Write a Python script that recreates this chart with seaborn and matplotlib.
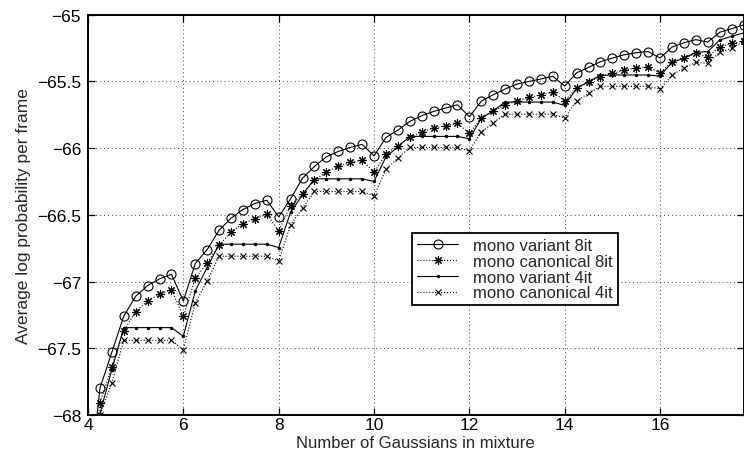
import matplotlib
matplotlib.use("Agg")
import matplotlib.pyplot as plt
import seaborn as sns

# Number of Gaussians per mixture (x positions of every curve)
n_gauss = [4.0, 4.25, 4.5, 4.75, 5.0, 5.25, 5.5, 5.75,
           6.0, 6.25, 6.5, 6.75, 7.0, 7.25, 7.5, 7.75,
           8.0, 8.25, 8.5, 8.75, 9.0, 9.25, 9.5, 9.75,
           10.0, 10.25, 10.5, 10.75, 11.0, 11.25, 11.5, 11.75,
           12.0, 12.25, 12.5, 12.75, 13.0, 13.25, 13.5, 13.75,
           14.0, 14.25, 14.5, 14.75, 15.0, 15.25, 15.5, 15.75,
           16.0, 16.25, 16.5, 16.75, 17.0, 17.25, 17.5, 17.75]

variant_8it = [-68.64, -67.80, -67.53, -67.26, -67.11, -67.03, -66.98, -66.945,
               -67.145, -66.865, -66.76, -66.615, -66.525, -66.46, -66.415, -66.39,
               -66.515, -66.38, -66.225, -66.137, -66.065, -66.025, -65.995, -65.972,
               -66.058, -65.92, -65.865, -65.80, -65.757, -65.725, -65.70, -65.675,
               -65.765, -65.648, -65.60, -65.557, -65.52, -65.50, -65.482, -65.462,
               -65.535, -65.435, -65.395, -65.352, -65.325, -65.30, -65.285, -65.276,
               -65.325, -65.243, -65.21, -65.187, -65.205, -65.132, -65.105, -65.077]

canonical_8it = [-68.75, -67.91, -67.64, -67.37, -67.225, -67.145, -67.095, -67.06,
                 -67.26, -66.975, -66.86, -66.725, -66.63, -66.565, -66.53, -66.495,
                 -66.62, -66.43, -66.34, -66.24, -66.18, -66.137, -66.107, -66.09,
                 -66.18, -66.045, -65.982, -65.92, -65.877, -65.85, -65.832, -65.815,
                 -65.89, -65.775, -65.72, -65.677, -65.645, -65.62, -65.60, -65.582,
                 -65.645, -65.55, -65.505, -65.465, -65.44, -65.415, -65.40, -65.39,
                 -65.437, -65.352, -65.327, -65.29, -65.315, -65.242, -65.215, -65.198]

variant_4it = [-68.85, -67.99, -67.66, -67.345, -67.345, -67.345, -67.345, -67.345,
               -67.41, -67.07, -66.895, -66.72, -66.72, -66.72, -66.72, -66.72,
               -66.745, -66.48, -66.35, -66.23, -66.23, -66.23, -66.23, -66.23,
               -66.25, -66.065, -65.99, -65.912, -65.912, -65.912, -65.912, -65.912,
               -65.93, -65.777, -65.72, -65.655, -65.655, -65.655, -65.655, -65.655,
               -65.68, -65.552, -65.50, -65.455, -65.452, -65.452, -65.452, -65.452,
               -65.46, -65.357, -65.327, -65.282, -65.277, -65.19, -65.162, -65.137]

canonical_4it = [-68.95, -68.0, -67.76, -67.44, -67.44, -67.44, -67.44, -67.44,
                 -67.51, -67.16, -66.995, -66.81, -66.81, -66.81, -66.81, -66.81,
                 -66.845, -66.575, -66.45, -66.325, -66.325, -66.325, -66.325, -66.325,
                 -66.358, -66.16, -66.075, -65.995, -65.995, -65.995, -65.995, -65.995,
                 -66.02, -65.88, -65.81, -65.745, -65.745, -65.745, -65.745, -65.745,
                 -65.775, -65.645, -65.59, -65.537, -65.537, -65.537, -65.537, -65.537,
                 -65.557, -65.452, -65.40, -65.357, -65.365, -65.282, -65.252, -65.20]

series_names = ["mono variant 8it", "mono canonical 8it",
                "mono variant 4it", "mono canonical 4it"]
x_ticks = [4, 6, 8, 10, 12, 14, 16]
y_ticks = [-68, -67.5, -67, -66.5, -66, -65.5, -65]
y_tick_labels = ["\u221268", "\u221267.5", "\u221267", "\u221266.5",
                 "\u221266", "\u221265.5", "\u221265"]

sns.set_theme(style="white")
plt.rcParams["font.family"] = ["Liberation Sans", "DejaVu Sans"]

fig = plt.figure(figsize=(7.44, 4.52), dpi=100)
ax = fig.add_axes([88 / 744, 36 / 452, 655.5 / 744, 400.3 / 452])

line_styles = {
    "mono variant 8it": dict(linestyle="-", marker="o", markersize=6.5,
                             fillstyle="none", markeredgewidth=0.8),
    "mono canonical 8it": dict(linestyle=":", marker=(8, 2, 0), markersize=6,
                               markeredgewidth=0.8),
    "mono variant 4it": dict(linestyle="-", marker=".", markersize=4,
                             markeredgewidth=0.5, markerfacecolor="black"),
    "mono canonical 4it": dict(linestyle=":", marker="x", markersize=4.5,
                               markeredgewidth=0.8),
}

for name, values in zip(series_names,
                        [variant_8it, canonical_8it, variant_4it, canonical_4it]):
    sns.lineplot(x=n_gauss, y=values, ax=ax, color="black", linewidth=0.8,
                 label=name, sort=False, estimator=None,
                 markeredgecolor="black", **line_styles[name])

ax.set_xlim(4, 17.75)
ax.set_ylim(-68, -65)
ax.set_xticks(x_ticks)
ax.set_xticklabels([str(t) for t in x_ticks])
ax.set_yticks(y_ticks)
ax.set_yticklabels(y_tick_labels)

ax.grid(True, linestyle=(0, (1, 3)), linewidth=0.7, color="0.25")
ax.set_axisbelow(True)

for side in ["left", "right", "top", "bottom"]:
    ax.spines[side].set_visible(True)
    ax.spines[side].set_color("black")
    ax.spines[side].set_linewidth(1.4)

ax.tick_params(direction="in", length=5, width=0.9, colors="black",
               top=True, right=True, bottom=True, left=True,
               labelsize=12.5)
ax.tick_params(axis="x", pad=1.5)
ax.tick_params(axis="y", pad=5)

ax.set_xlabel("Number of Gaussians in mixture", fontsize=12)
ax.xaxis.set_label_coords(0.5, -0.05)
ax.set_ylabel("Average log probability per frame", fontsize=12.5, labelpad=4)

leg = ax.legend(loc="upper left", bbox_to_anchor=(0.494, 0.455),
                borderaxespad=0, fontsize=12, frameon=True, fancybox=False,
                edgecolor="black", framealpha=1, handlelength=2.5,
                handletextpad=0.9, labelspacing=0.05, borderpad=0.3)
leg.get_frame().set_linewidth(1.3)

fig.savefig("out.png", dpi=100)
